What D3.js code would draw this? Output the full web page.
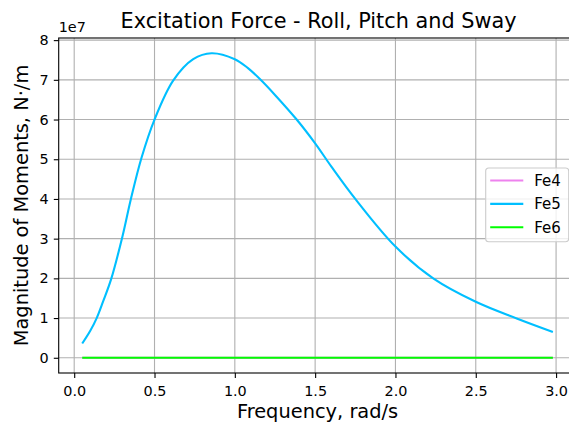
<!DOCTYPE html>
<html lang="en">
<head>
<meta charset="UTF-8">
<title>Excitation Force - Roll, Pitch and Sway</title>
<script src="https://d3js.org/d3.v7.min.js"></script>
<style>
  body { margin: 0; background: #fff; }
  svg { font-family: "DejaVu Sans", sans-serif; }
  .grid line { stroke: #b0b0b0; stroke-width: 1.1; }
</style>
</head>
<body>
<div id="chart"></div>
<script>
// frequency, rad/s
const freq = [0.05, 0.10, 0.14, 0.18, 0.23, 0.30, 0.353, 0.42, 0.50, 0.616, 0.741, 0.855,
              1.0, 1.08, 1.156, 1.25, 1.385, 1.5, 1.6, 1.75, 2.0, 2.235, 2.5, 2.755, 2.98];
// magnitudes in units of 1e7 N·m
const fe5 = [0.36, 0.68, 1.0, 1.42, 1.98, 3.05, 4.0, 5.05, 6.0, 6.98, 7.52, 7.67,
             7.52, 7.3, 7.02, 6.62, 6.0, 5.4, 4.82, 4.0, 2.8, 2.0, 1.41, 0.99, 0.65];
const fe4 = freq.map(() => 0);
const fe6 = freq.map(() => 0);

const seriesNames = ["Fe4", "Fe5", "Fe6"];
const seriesColors = ["#ee82ee", "#00bfff", "#00ff00"];
const seriesValues = [fe4, fe5, fe6];

const xTicks = [0, 0.5, 1.0, 1.5, 2.0, 2.5, 3.0];
const yTicks = [0, 1, 2, 3, 4, 5, 6, 7, 8];

const W = 569, H = 427;
const plot = { left: 58.7, right: 576.4, top: 38, bottom: 373 };

const svg = d3.select("#chart").append("svg")
    .attr("width", W)
    .attr("height", H);

// matplotlib-like 5% margins
const xExt = d3.extent(freq);
const xPad = (xExt[1] - xExt[0]) * 0.05;
const allY = seriesValues.flat();
const yExt = d3.extent(allY);
const yPad = (yExt[1] - yExt[0]) * 0.05;

const x = d3.scaleLinear()
    .domain([xExt[0] - xPad, xExt[1] + xPad])
    .range([plot.left, plot.right]);

const y = d3.scaleLinear()
    .domain([yExt[0] - yPad, yExt[1] + yPad])
    .range([plot.bottom, plot.top]);

// grid
const grid = svg.append("g").attr("class", "grid");
grid.selectAll(".gx").data(xTicks).enter().append("line")
    .attr("x1", d => x(d)).attr("x2", d => x(d))
    .attr("y1", plot.top).attr("y2", plot.bottom);
grid.selectAll(".gy").data(yTicks).enter().append("line")
    .attr("x1", plot.left).attr("x2", plot.right)
    .attr("y1", d => y(d)).attr("y2", d => y(d));

// lines
const line = d3.line()
    .x((d, i) => x(freq[i]))
    .y(d => y(d))
    .curve(d3.curveCatmullRom.alpha(0.5));

seriesValues.forEach((vals, k) => {
    svg.append("path")
        .datum(vals)
        .attr("fill", "none")
        .attr("stroke", seriesColors[k])
        .attr("stroke-width", 2.1)
        .attr("d", line);
});

// axes
const xAxis = svg.append("g")
    .attr("transform", `translate(0,${plot.bottom})`)
    .call(d3.axisBottom(x).tickValues(xTicks).tickFormat(d3.format(".1f"))
        .tickSizeOuter(0).tickSize(4.9).tickPadding(7.5));
const yAxis = svg.append("g")
    .attr("transform", `translate(${plot.left},0)`)
    .call(d3.axisLeft(y).tickValues(yTicks).tickFormat(d3.format("d"))
        .tickSizeOuter(0).tickSize(4.9).tickPadding(5.2));

[xAxis, yAxis].forEach(a => {
    a.select(".domain").remove();
    a.selectAll(".tick line").attr("stroke", "#000").attr("stroke-width", 1.1);
    a.selectAll(".tick text")
        .attr("fill", "#000")
        .style("font-size", "14.4px")
        .style("font-family", "DejaVu Sans, sans-serif");
});

// spines
svg.append("rect")
    .attr("x", plot.left).attr("y", plot.top)
    .attr("width", plot.right - plot.left).attr("height", plot.bottom - plot.top)
    .attr("fill", "none").attr("stroke", "#000").attr("stroke-width", 1.1);

// offset text
svg.append("text")
    .attr("x", plot.left).attr("y", 32)
    .style("font-size", "14.4px")
    .text("1e7");

// title and labels
svg.append("text")
    .attr("x", (plot.left + plot.right) / 2 + 1).attr("y", 28)
    .attr("text-anchor", "middle")
    .style("font-size", "20.8px")
    .text("Excitation Force - Roll, Pitch and Sway");

svg.append("text")
    .attr("x", (plot.left + plot.right) / 2).attr("y", 418)
    .attr("text-anchor", "middle")
    .style("font-size", "19.4px")
    .text("Frequency, rad/s");

svg.append("text")
    .attr("transform", `translate(28,${(plot.top + plot.bottom) / 2}) rotate(-90)`)
    .attr("text-anchor", "middle")
    .style("font-size", "19.4px")
    .text("Magnitude of Moments, N·/m");

// legend
const legend = svg.append("g").attr("transform", "translate(485.7,168)");
legend.append("rect")
    .attr("width", 83).attr("height", 73.7)
    .attr("rx", 3)
    .attr("fill", "#fff").attr("fill-opacity", 0.8)
    .attr("stroke", "#cccccc").attr("stroke-width", 1.1);

const items = legend.selectAll(".item").data(seriesNames).enter().append("g")
    .attr("transform", (d, i) => `translate(0,${12.5 + i * 23.4})`);
items.append("line")
    .attr("x1", 4.5).attr("x2", 37.6)
    .attr("stroke", (d, i) => seriesColors[i])
    .attr("stroke-width", 2.1);
items.append("text")
    .attr("x", 48.6).attr("y", 5.4)
    .style("font-size", "15px")
    .text(d => d);
</script>
</body>
</html>
